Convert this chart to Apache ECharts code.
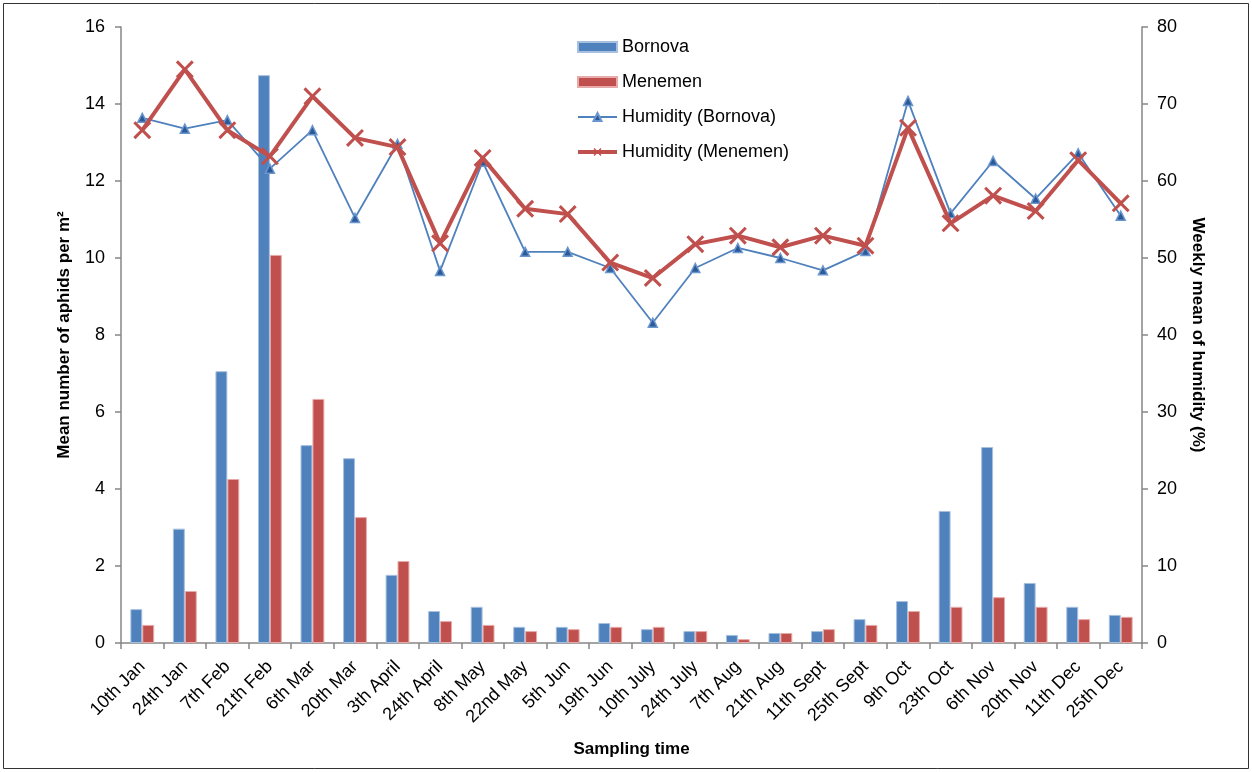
<!DOCTYPE html>
<html><head><meta charset="utf-8">
<script src="https://cdn.jsdelivr.net/npm/echarts@6/dist/echarts.min.js"></script>
<style>html,body{margin:0;padding:0;background:#fff}#c{width:1252px;height:772px}</style>
</head><body><div id="c"></div>
<script>
const categories = ['10th Jan','24th Jan','7th Feb','21th Feb','6th Mar','20th Mar','3th April','24th April','8th May','22nd May','5th Jun','19th Jun','10th July','24th July','7th Aug','21th Aug','11th Sept','25th Sept','9th Oct','23th Oct','6th Nov','20th Nov','11th Dec','25th Dec'];
const bornova = [0.88,2.97,7.06,14.75,5.14,4.8,1.77,0.83,0.94,0.42,0.42,0.52,0.36,0.31,0.21,0.26,0.31,0.62,1.09,3.43,5.09,1.56,0.94,0.73];
const menemen = [0.47,1.35,4.26,10.08,6.34,3.27,2.13,0.57,0.47,0.31,0.36,0.42,0.42,0.31,0.1,0.26,0.36,0.47,0.83,0.94,1.19,0.94,0.62,0.68];
const humBornova = [68.2,66.8,67.9,61.6,66.6,55.2,64.8,48.3,62.5,50.8,50.8,48.7,41.6,48.7,51.3,50.0,48.4,50.9,70.4,55.8,62.6,57.7,63.6,55.5];
const humMenemen = [66.6,74.5,66.6,63.2,71.0,65.6,64.4,51.9,63.0,56.4,55.7,49.4,47.4,51.8,52.9,51.4,52.9,51.6,66.9,54.5,58.1,56.1,62.7,57.1];
const leftTicks = {min:0,max:16,interval:2};
const rightTicks = {min:0,max:80,interval:10};

const FONT = 'Liberation Sans, Arial, sans-serif';
const axisGrey = '#868686';
const xSym = 'path://M0,1.2L1.2,0L5,3.8L8.8,0L10,1.2L6.2,5L10,8.8L8.8,10L5,6.2L1.2,10L0,8.8L3.8,5Z';

const chart = echarts.init(document.getElementById('c'), null, {renderer:'canvas'});
chart.setOption({
  animation:false,
  textStyle:{fontFamily:FONT,color:'#000'},
  graphic:[{type:'rect',shape:{x:3.5,y:3.5,width:1245,height:765},style:{fill:'none',stroke:'#333',lineWidth:1},silent:true}],
  grid:{left:121,right:110,top:27,bottom:129,containLabel:false},
  legend:{
    orient:'vertical',left:576,top:38,padding:0,itemGap:17,itemWidth:39,itemHeight:10,
    textStyle:{fontSize:18,fontFamily:FONT,color:'#000'},
    data:[{name:'Bornova',icon:'rect'},{name:'Menemen',icon:'rect'},
          {name:'Humidity (Bornova)',lineStyle:{width:2}},
          {name:'Humidity (Menemen)',lineStyle:{width:4}}]
  },
  xAxis:{
    type:'category',data:categories,boundaryGap:true,
    axisLine:{lineStyle:{color:axisGrey,width:1.5}},
    axisTick:{show:true,alignWithLabel:false,length:6,lineStyle:{color:axisGrey,width:1.5}},
    axisLabel:{rotate:45,interval:0,fontSize:18,color:'#000',margin:21,fontFamily:FONT},
    name:'Sampling time',nameLocation:'middle',nameGap:98,
    nameTextStyle:{fontSize:17,fontWeight:'bold',color:'#000',fontFamily:FONT}
  },
  yAxis:[{
    type:'value',min:leftTicks.min,max:leftTicks.max,interval:leftTicks.interval,
    splitLine:{show:false},
    axisLine:{show:true,lineStyle:{color:axisGrey,width:1.5}},
    axisTick:{show:true,length:6,lineStyle:{color:axisGrey,width:1.5}},
    axisLabel:{fontSize:18,color:'#000',margin:16,fontFamily:FONT},
    name:'Mean number of aphids per m²',nameLocation:'middle',nameGap:48,
    nameTextStyle:{fontSize:17,fontWeight:'bold',color:'#000',fontFamily:FONT}
  },{
    type:'value',min:rightTicks.min,max:rightTicks.max,interval:rightTicks.interval,position:'right',
    splitLine:{show:false},
    axisLine:{show:true,lineStyle:{color:axisGrey,width:1.5}},
    axisTick:{show:true,length:6,lineStyle:{color:axisGrey,width:1.5}},
    axisLabel:{fontSize:18,color:'#000',margin:15,fontFamily:FONT},
    name:'Weekly mean of humidity (%)',nameLocation:'middle',nameGap:47,nameRotate:-90,
    nameTextStyle:{fontSize:17,fontWeight:'bold',color:'#000',fontFamily:FONT}
  }],
  series:[
    {name:'Bornova',type:'bar',yAxisIndex:0,data:bornova,barGap:'0%',barCategoryGap:'44%',
     itemStyle:{color:'#4F81BD',borderColor:'#A7C0E0',borderWidth:1}},
    {name:'Menemen',type:'bar',yAxisIndex:0,data:menemen,barGap:'0%',barCategoryGap:'44%',
     itemStyle:{color:'#C0504D',borderColor:'#E8AAA8',borderWidth:1}},
    {name:'Humidity (Bornova)',type:'line',yAxisIndex:1,data:humBornova,
     symbol:'triangle',symbolSize:9,showAllSymbol:true,
     lineStyle:{color:'#4F81BD',width:1.8},
     itemStyle:{color:'#2C5A97',borderColor:'#6A96CF',borderWidth:1.5},z:5},
    {name:'Humidity (Menemen)',type:'line',yAxisIndex:1,data:humMenemen,
     symbol:xSym,symbolSize:18,showAllSymbol:true,
     lineStyle:{color:'#C0504D',width:4},
     itemStyle:{color:'#C0504D'},z:6}
  ]
});
</script>
</body></html>
